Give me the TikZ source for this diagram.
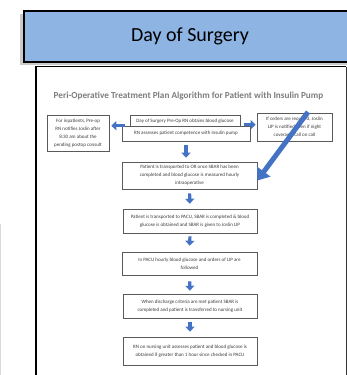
\documentclass[tikz,border=0pt]{standalone}
\usepackage{fontspec}
\setmainfont{Carlito}
\usetikzlibrary{arrows.meta,calc}
\definecolor{hdrblue}{RGB}{141,180,226}
\definecolor{arrblue}{RGB}{68,114,196}
\definecolor{boxline}{RGB}{90,90,90}
\definecolor{txtgray}{RGB}{60,60,60}
\definecolor{titlegray}{RGB}{125,125,125}
\tikzset{
  box/.style={draw=boxline, line width=0.6pt, fill=white, align=center, inner sep=0.5pt,
    text=txtgray, font=\fontsize{5}{8}\selectfont},
  downarr/.style={draw=arrblue, line width=3.2pt, -{Triangle[width=9pt,length=5pt]}},
  sidearr/.style={draw=arrblue, line width=3.2pt, -{Triangle[width=9pt,length=5pt]}},
  bigarr/.style={draw=arrblue, line width=5pt, -{Triangle[width=16pt,length=11pt]}},
}
\begin{document}
\begin{tikzpicture}[x=1pt,y=-1pt]
\useasboundingbox (0,0) rectangle (347,375);
% faint edge at left
\draw[black!15, line width=1pt] (0.5,224) -- (0.5,375);
% header shadow
\fill[black!35, opacity=0.6] (20,14) rectangle (347,65);
% document frame
\fill[white] (36,66) rectangle (346,380);
\draw[black, line width=1.6pt] (36,380) -- (36,66.5) -- (346,66.5);
\draw[black!80, line width=1pt] (346,66.5) -- (346,380);
% header
\node[draw=black, line width=1.6pt, fill=hdrblue, minimum width=340pt, minimum height=51pt,
  anchor=north west, inner sep=0pt] (hdr) at (23,10) {};
\node[font=\fontsize{20}{24}\selectfont] (hdrtxt) at (190,36) {Day of Surgery};
% title
\node[text=titlegray, font=\bfseries\fontsize{9.2}{10}\selectfont] (title) at (188.5,96)
  {Peri-Operative Treatment Plan Algorithm for Patient with Insulin Pump};
% boxes
\node[box, minimum width=62pt, minimum height=36pt] (L) at (78,133)
  {For inpatients, Pre-op\\RN notifies Joslin after\\8:30 am about the\\pending postop consult};
\node[box, minimum width=110pt, minimum height=12pt] (T1) at (185,121)
  {Day of Surgery Pre-Op RN obtains blood glucose};
\node[box, minimum width=128pt, minimum height=15pt] (T2) at (186,133.5)
  {RN assesses patient competence with insulin pump};
\node[box, minimum width=75pt, minimum height=28pt] (R) at (294.5,127)
  {If orders are required, Joslin\\LIP is notified even if night\\coverage, call on call};
\node[box, minimum width=135pt, minimum height=27pt] (B2) at (189.5,175.5)
  {Patient is transported to OR once SBAR has been\\completed and blood glucose is measured hourly\\intraoperative};
\node[box, minimum width=134pt, minimum height=24pt] (B3) at (190,221)
  {Patient is transported to PACU, SBAR is completed \& blood\\glucose is obtained and SBAR is given to Joslin LIP};
\node[box, minimum width=135pt, minimum height=23pt] (B4) at (189.5,263.5)
  {In PACU hourly blood glucose and orders of LIP are\\followed};
\node[box, minimum width=134pt, minimum height=24pt] (B5) at (190,306)
  {When discharge criteria are met patient SBAR is\\completed and patient is transferred to nursing unit};
\node[box, minimum width=134pt, minimum height=28pt] (B6) at (190,351)
  {RN on nursing unit assesses patient and blood glucose is\\obtained if greater than 1 hour since checked in PACU};
% arrows
\draw[sidearr, shorten >=2pt] ([xshift=3pt]T2.north west) -- (L.east |- T2.north west);
\draw[sidearr, shorten >=1pt] ([xshift=-6pt,yshift=1pt]T2.north east) -- ([yshift=1pt]R.west |- T2.north east);
\draw[downarr, shorten <=4pt, shorten >=4pt] (T2.south) -- (T2.south |- B2.north);
\draw[downarr, shorten <=4pt, shorten >=5pt] (B2.south) -- (B3.north);
\draw[downarr, shorten <=3pt, shorten >=6pt] (B3.south) -- (B4.north);
\draw[downarr, shorten <=6pt, shorten >=3pt] (B4.south) -- (B5.north);
\draw[downarr, shorten <=4pt, shorten >=5pt] (B5.south) -- (B6.north);
\coordinate (dstart) at (308,112);
\draw[bigarr] (dstart) -- ([yshift=-5pt]B2.east);
\end{tikzpicture}
\end{document}
